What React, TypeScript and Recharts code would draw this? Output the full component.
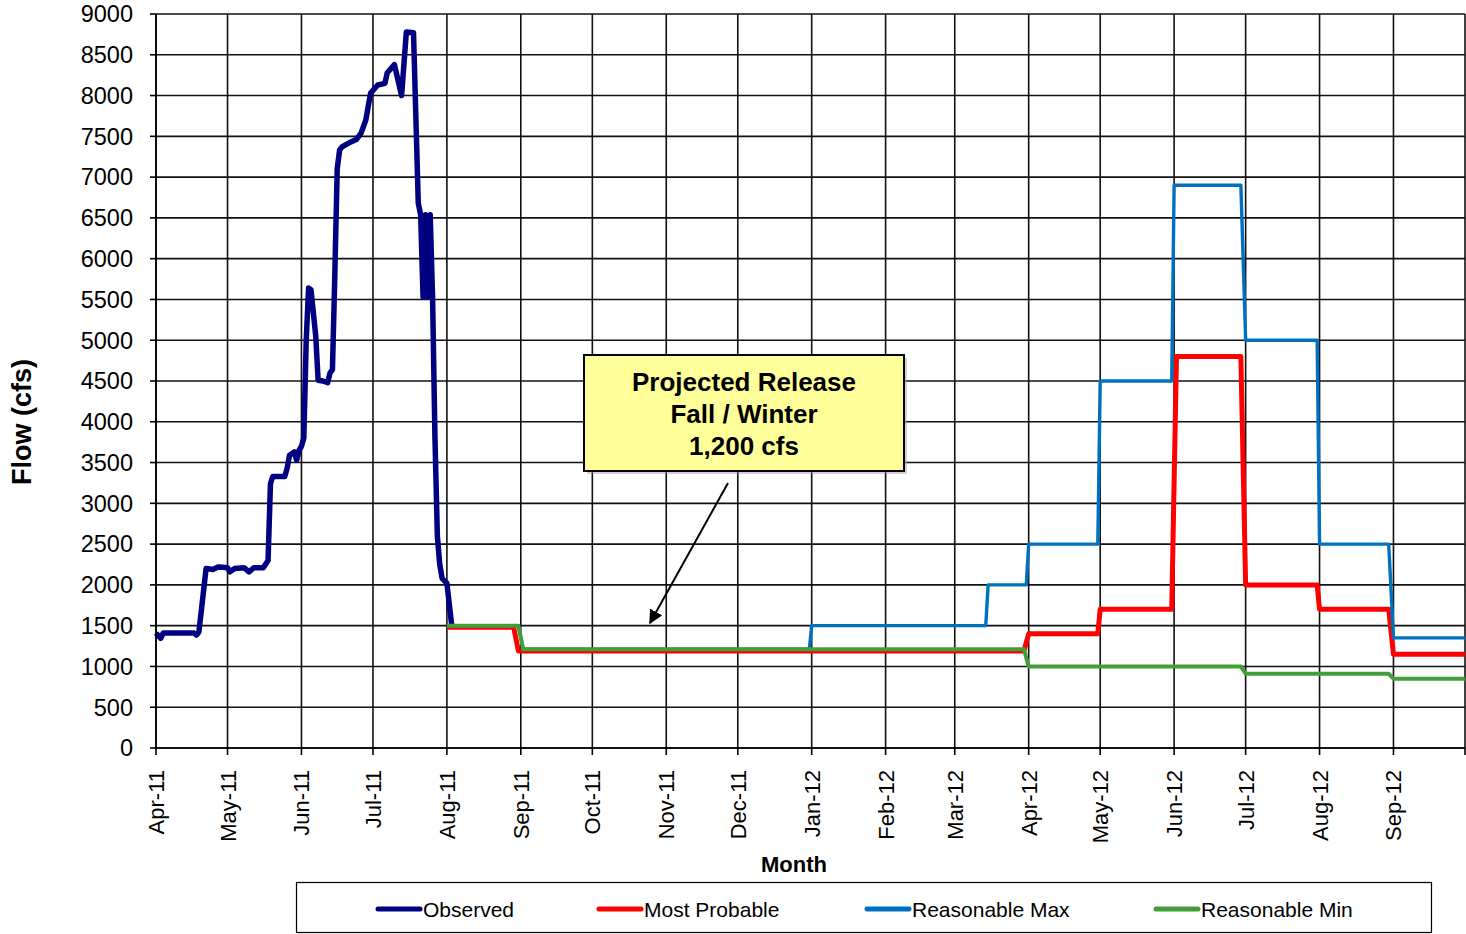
import { CartesianGrid, Line, LineChart, XAxis, YAxis } from 'recharts';

// x values are days counted from 1 Apr 2011
const monthTicks = [0, 30, 61, 91, 122, 153, 183, 214, 244, 275, 306, 335, 366, 396, 427, 457, 488, 519, 549];
const monthLabels = [
  'Apr-11', 'May-11', 'Jun-11', 'Jul-11', 'Aug-11', 'Sep-11', 'Oct-11', 'Nov-11', 'Dec-11',
  'Jan-12', 'Feb-12', 'Mar-12', 'Apr-12', 'May-12', 'Jun-12', 'Jul-12', 'Aug-12', 'Sep-12', '',
];
const flowTicks = [0, 500, 1000, 1500, 2000, 2500, 3000, 3500, 4000, 4500, 5000, 5500, 6000, 6500, 7000, 7500, 8000, 8500, 9000];

const observedDays = [
  0, 2, 3, 16, 17, 18, 21, 24, 26, 28, 30, 31, 33, 37, 39, 41, 45, 47, 48, 49, 54, 55, 56, 58, 59, 60,
  61, 62, 63, 64, 65, 67, 68, 70, 72, 73, 74, 75, 76, 77, 78, 81, 84, 86, 88, 90, 93, 96, 97, 100, 103,
  105, 108, 110, 111, 112, 113, 114, 115, 116, 117, 118, 119, 120, 122, 124,
];
const observedFlow = [
  1410, 1345, 1410, 1410, 1385, 1425, 2200, 2190, 2220, 2215, 2210, 2160, 2200, 2210, 2160, 2210, 2210, 2300, 3240, 3330, 3330, 3430, 3590, 3630, 3530, 3650,
  3700, 3800, 5000, 5640, 5620, 5050, 4510, 4500, 4480, 4600, 4640, 5800, 7100, 7330, 7370, 7420, 7460, 7540, 7700, 8030, 8130, 8150, 8280, 8380, 8000,
  8780, 8770, 6680, 6540, 5530, 6540, 5530, 6540, 5520, 3800, 2600, 2250, 2080, 2020, 1510,
];

const probableDays = [122, 150, 152, 364, 366, 395, 396, 426, 428, 455, 457, 487, 488, 517, 519, 549];
const probableFlow = [1480, 1480, 1190, 1190, 1400, 1400, 1700, 1700, 4800, 4800, 2000, 2000, 1700, 1700, 1150, 1150];

const maxDays = [122, 152, 154, 274, 275, 348, 349, 365, 366, 395, 396, 426, 427, 455, 457, 487, 488, 517, 519, 549];
const maxFlow = [1500, 1500, 1210, 1210, 1500, 1500, 2000, 2000, 2500, 2500, 4500, 4500, 6900, 6900, 5000, 5000, 2500, 2500, 1350, 1350];

const minDays = [122, 152, 154, 364, 366, 455, 457, 517, 519, 549];
const minFlow = [1500, 1500, 1210, 1210, 1000, 1000, 910, 910, 850, 850];

const toPoints = (days: number[], flow: number[]) => days.map((day, i) => ({ day, flow: flow[i] }));

const series = [
  { name: 'Observed', color: '#000080', width: 5.5, data: toPoints(observedDays, observedFlow) },
  { name: 'Most Probable', color: '#ff0000', width: 5, data: toPoints(probableDays, probableFlow) },
  { name: 'Reasonable Max', color: '#0070c0', width: 3.4, data: toPoints(maxDays, maxFlow) },
  { name: 'Reasonable Min', color: '#439e3a', width: 4, data: toPoints(minDays, minFlow) },
];

const FONT = "Arial, 'Liberation Sans', sans-serif";

const MonthTick = ({ x, y, payload }: any) => {
  const label = monthLabels[monthTicks.indexOf(payload.value)] ?? '';
  return (
    <text
      transform={`translate(${x + 8},${y + 13}) rotate(-90)`}
      textAnchor="end"
      fontSize={22}
      fontFamily={FONT}
      fill="#000"
    >
      {label}
    </text>
  );
};

const legendItems = [
  { x: 378, textX: 423 },
  { x: 599, textX: 644 },
  { x: 867, textX: 912 },
  { x: 1156, textX: 1201 },
];

export default function App() {
  return (
    <div style={{ position: 'absolute', left: 0, top: 0, width: 1466, height: 934, background: '#fff' }}>
      <LineChart width={1466} height={934} data={series[0].data} margin={{ top: 14, right: 1, left: 56, bottom: 86 }}>
        <CartesianGrid stroke="#111" strokeWidth={1.6} />
        <XAxis
          dataKey="day"
          type="number"
          domain={[0, 549]}
          ticks={monthTicks}
          interval={0}
          height={100}
          tick={<MonthTick />}
          tickSize={7}
          tickMargin={2}
          axisLine={{ stroke: '#000', strokeWidth: 1.6 }}
          tickLine={{ stroke: '#000', strokeWidth: 1.6 }}
        />
        <YAxis
          type="number"
          domain={[0, 9000]}
          ticks={flowTicks}
          interval={0}
          width={100}
          tickSize={6}
          tickMargin={17}
          tick={{ fontSize: 23.5, fill: '#000', fontFamily: FONT }}
          axisLine={{ stroke: '#000', strokeWidth: 1.6 }}
          tickLine={{ stroke: '#000', strokeWidth: 1.6 }}
        />
        {series.map((s) => (
          <Line
            key={s.name}
            data={s.data}
            dataKey="flow"
            name={s.name}
            type="linear"
            stroke={s.color}
            strokeWidth={s.width}
            strokeLinejoin="round"
            dot={false}
            activeDot={false}
            isAnimationActive={false}
          />
        ))}
      </LineChart>
      <svg
        width={1466}
        height={934}
        style={{ position: 'absolute', left: 0, top: 0, pointerEvents: 'none' }}
        fontFamily={FONT}
      >
        <defs>
          <marker id="arrowHead" viewBox="0 0 10 10" refX="9" refY="5" markerWidth="7" markerHeight="7" orient="auto">
            <path d="M0,0 L10,5 L0,10 z" fill="#000" />
          </marker>
        </defs>
        <text
          transform="translate(31,422) rotate(-90)"
          textAnchor="middle"
          fontSize={27}
          fontWeight="bold"
          fill="#000"
        >
          Flow (cfs)
        </text>
        <text x={794} y={872} textAnchor="middle" fontSize={22} fontWeight="bold" fill="#000">
          Month
        </text>

        <rect x={587} y={358} width={320} height={116} fill="#999" opacity={0.45} />
        <rect x={584} y={355} width={320} height={116} fill="#ffff99" stroke="#000" strokeWidth={2} />
        <text textAnchor="middle" fontSize={26} fontWeight="bold" fill="#000">
          <tspan x={744} y={391}>Projected Release</tspan>
          <tspan x={744} y={423}>Fall / Winter</tspan>
          <tspan x={744} y={455}>1,200 cfs</tspan>
        </text>
        <line x1={728} y1={483} x2={650} y2={623} stroke="#000" strokeWidth={2} markerEnd="url(#arrowHead)" />

        <rect x={296.5} y={882.5} width={1135} height={50} fill="#fff" stroke="#000" strokeWidth={1.2} />
        {series.map((s, i) => (
          <g key={s.name}>
            <line
              x1={legendItems[i].x}
              y1={909}
              x2={legendItems[i].x + 42}
              y2={909}
              stroke={s.color}
              strokeWidth={5}
              strokeLinecap="round"
            />
            <text x={legendItems[i].textX} y={917} fontSize={21} fill="#000">
              {s.name}
            </text>
          </g>
        ))}
      </svg>
    </div>
  );
}
